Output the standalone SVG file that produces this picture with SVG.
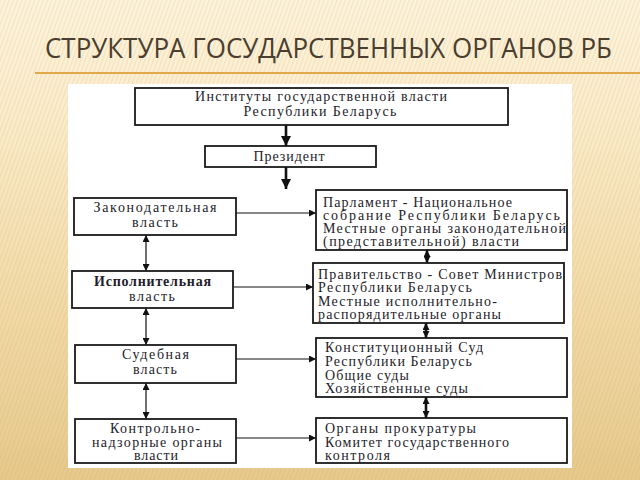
<svg xmlns="http://www.w3.org/2000/svg" width="640" height="480" viewBox="0 0 640 480">
<defs>
<linearGradient id="bg" x1="0" y1="0" x2="0" y2="1">
<stop offset="0" stop-color="#fdf4de"/>
<stop offset="0.25" stop-color="#fbeccb"/>
<stop offset="0.6" stop-color="#f2dcab"/>
<stop offset="1" stop-color="#e7c98c"/>
</linearGradient>
<pattern id="stripes" width="4" height="4" patternUnits="userSpaceOnUse" patternTransform="rotate(20)">
<rect width="1.3" height="4" fill="#c9a35a"/>
</pattern>
<marker id="ah" viewBox="0 0 10 10" refX="10" refY="5" markerWidth="7" markerHeight="7" markerUnits="userSpaceOnUse" orient="auto-start-reverse">
<path d="M0,0 L10,5 L0,10 z" fill="#111"/>
</marker>
<marker id="ahb" viewBox="0 0 10 10" refX="10" refY="5" markerWidth="10" markerHeight="10" markerUnits="userSpaceOnUse" orient="auto-start-reverse">
<path d="M0,0 L10,5 L0,10 z" fill="#111"/>
</marker>
</defs>
<style>
.box{fill:#fff;stroke:#1a1a1a;stroke-width:1.8}
.t{font-family:"Liberation Serif","Times New Roman",serif;font-size:14px;fill:#241c2a}
.c{text-anchor:middle}
.ln{stroke:#111;stroke-width:1.2;fill:none}
.thick{stroke:#111;stroke-width:2.6;fill:none}
</style>
<rect width="640" height="480" fill="url(#bg)"/>
<rect width="640" height="480" fill="url(#stripes)" opacity="0.18"/>
<text x="45" y="58" font-family="'Open Sans','Noto Sans',sans-serif" font-size="27" fill="#4a3e30" textLength="567" lengthAdjust="spacingAndGlyphs">СТРУКТУРА ГОСУДАРСТВЕННЫХ ОРГАНОВ РБ</text>
<line x1="35" y1="73" x2="640" y2="73" stroke="#e2a94a" stroke-width="2"/>
<rect x="68" y="84" width="504" height="384" fill="#fff"/>

<g id="connectors">
<line class="thick" x1="286" y1="125" x2="286" y2="146" marker-end="url(#ahb)"/>
<line class="thick" x1="286" y1="167" x2="286" y2="189" marker-end="url(#ahb)"/>
<line class="ln" x1="236" y1="213" x2="316" y2="213" marker-end="url(#ah)"/>
<line class="ln" x1="233" y1="287" x2="313" y2="287" marker-end="url(#ah)"/>
<line class="ln" x1="236" y1="359" x2="316" y2="359" marker-end="url(#ah)"/>
<line class="ln" x1="236" y1="438" x2="316" y2="438" marker-end="url(#ah)"/>
<line class="ln" x1="146" y1="235" x2="146" y2="271" marker-start="url(#ah)" marker-end="url(#ah)"/>
<line class="ln" x1="146" y1="308" x2="146" y2="345" marker-start="url(#ah)" marker-end="url(#ah)"/>
<line class="ln" x1="146" y1="383" x2="146" y2="419" marker-start="url(#ah)" marker-end="url(#ah)"/>
<line class="thick" x1="427" y1="250" x2="427" y2="263" marker-start="url(#ah)" marker-end="url(#ah)"/>
<line class="thick" x1="426" y1="323" x2="426" y2="338" marker-start="url(#ah)" marker-end="url(#ah)"/>
<line class="thick" x1="426" y1="397" x2="426" y2="418" marker-start="url(#ah)" marker-end="url(#ah)"/>
</g>

<g id="institutes">
<rect class="box" x="135" y="88" width="373" height="37"/>
<text class="t c" x="321" y="101" textLength="252" lengthAdjust="spacing">Институты государственной власти</text>
<text class="t c" x="320" y="116" textLength="153" lengthAdjust="spacing">Республики Беларусь</text>
</g>
<g id="president">
<rect class="box" x="205" y="146" width="171" height="21"/>
<text class="t c" x="289" y="161" textLength="71" lengthAdjust="spacing">Президент</text>
</g>

<g id="legislative">
<rect class="box" x="74" y="198" width="162" height="37"/>
<text class="t c" x="155" y="212" textLength="123" lengthAdjust="spacing">Законодательная</text>
<text class="t c" x="155" y="227" textLength="46" lengthAdjust="spacing">власть</text>
</g>
<g id="executive">
<rect class="box" x="72" y="271" width="161" height="37"/>
<text class="t c" x="152.5" y="286" textLength="117" lengthAdjust="spacing" font-weight="bold">Исполнительная</text>
<text class="t c" x="152" y="301" textLength="46" lengthAdjust="spacing">власть</text>
</g>
<g id="judicial">
<rect class="box" x="75" y="345" width="161" height="38"/>
<text class="t c" x="155.5" y="359" textLength="67" lengthAdjust="spacing">Судебная</text>
<text class="t c" x="155" y="374" textLength="44" lengthAdjust="spacing">власть</text>
</g>
<g id="control">
<rect class="box" x="75" y="419" width="161" height="44"/>
<text class="t c" x="155" y="433" textLength="90" lengthAdjust="spacing">Контрольно-</text>
<text class="t c" x="157" y="447" textLength="130" lengthAdjust="spacing">надзорные органы</text>
<text class="t c" x="156" y="460" textLength="44" lengthAdjust="spacing">власти</text>
</g>

<g id="parliament">
<rect class="box" x="316" y="190" width="251" height="60"/>
<text class="t" x="323" y="207" textLength="189" lengthAdjust="spacing">Парламент - Национальное</text>
<text class="t" x="323" y="220" textLength="237" lengthAdjust="spacing">собрание Республики Беларусь</text>
<text class="t" x="323" y="233" textLength="243" lengthAdjust="spacing">Местные органы законодательной</text>
<text class="t" x="323" y="246" textLength="196" lengthAdjust="spacing">(представительной) власти</text>
</g>
<g id="government">
<rect class="box" x="313" y="263" width="251" height="60"/>
<text class="t" x="318" y="279" textLength="244" lengthAdjust="spacing">Правительство - Совет Министров</text>
<text class="t" x="318" y="292" textLength="154" lengthAdjust="spacing">Республики Беларусь</text>
<text class="t" x="318" y="306" textLength="179" lengthAdjust="spacing">Местные исполнительно-</text>
<text class="t" x="318" y="319" textLength="183" lengthAdjust="spacing">распорядительные органы</text>
</g>
<g id="courts">
<rect class="box" x="316" y="338" width="251" height="59"/>
<text class="t" x="325" y="352" textLength="158" lengthAdjust="spacing">Конституционный Суд</text>
<text class="t" x="325" y="366" textLength="147" lengthAdjust="spacing">Республики Беларусь</text>
<text class="t" x="325" y="380" textLength="84" lengthAdjust="spacing">Общие суды</text>
<text class="t" x="325" y="393" textLength="143" lengthAdjust="spacing">Хозяйственные суды</text>
</g>
<g id="prosecution">
<rect class="box" x="316" y="418" width="251" height="45"/>
<text class="t" x="325" y="433" textLength="151" lengthAdjust="spacing">Органы прокуратуры</text>
<text class="t" x="325" y="447" textLength="184" lengthAdjust="spacing">Комитет государственного</text>
<text class="t" x="325" y="460" textLength="65" lengthAdjust="spacing">контроля</text>
</g>
</svg>
